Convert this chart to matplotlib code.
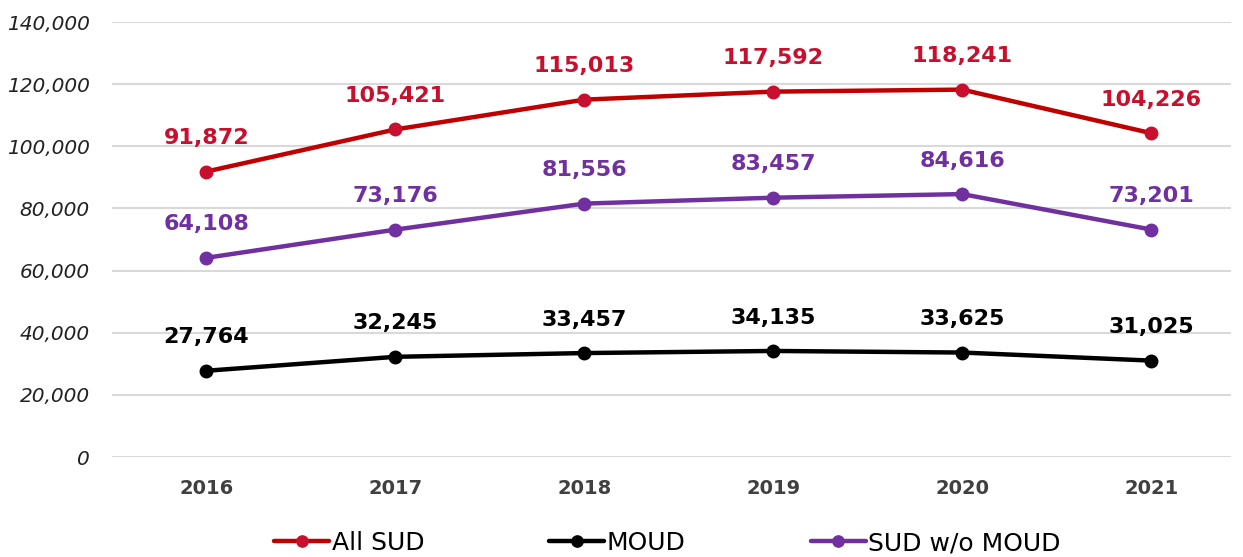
import matplotlib
matplotlib.use("Agg")
import matplotlib.pyplot as plt
from matplotlib.ticker import FuncFormatter

years = ["2016", "2017", "2018", "2019", "2020", "2021"]
all_sud = [91872, 105421, 115013, 117592, 118241, 104226]
moud = [27764, 32245, 33457, 34135, 33625, 31025]
sud_wo_moud = [64108, 73176, 81556, 83457, 84616, 73201]
y_ticks = [0, 20000, 40000, 60000, 80000, 100000, 120000, 140000]

plt.rcParams['font.family'] = ['DejaVu Sans']

fig = plt.figure(figsize=(12.43, 5.57), dpi=100)
ax = fig.add_axes([0.090, 0.1795, 0.900, 0.781])

series = [
    ("All SUD", all_sud, "#C00000", "#C8102E", "#C8102E"),
    ("MOUD", moud, "#000000", "#000000", "#000000"),
    ("SUD w/o MOUD", sud_wo_moud, "#7030A0", "#7030A0", "#7030A0"),
]
x = list(range(len(years)))
for name, vals, lc, mc, tc in series:
    ax.plot(x, vals, color=lc, lw=3.2, marker='o', ms=9, mfc=mc, mec=mc,
            label=name, solid_capstyle='round', zorder=3)
    for xi, v in zip(x, vals):
        ax.annotate(f"{v:,}", (xi, v), xytext=(0, 24), textcoords='offset points',
                    ha='center', va='center', color=tc, fontsize=16,
                    fontweight='bold')

ax.set_ylim(0, 140000)
ax.set_xlim(-0.5, 5.42)
ax.set_yticks(y_ticks)
ax.yaxis.set_major_formatter(FuncFormatter(lambda v, p: f"{int(v):,}"))
ax.set_xticks(x)
ax.set_xticklabels(years)
for lab in ax.get_yticklabels():
    lab.set_fontstyle('italic')
    lab.set_fontsize(14.5)
    lab.set_color('#222222')
for lab in ax.get_xticklabels():
    lab.set_fontweight('bold')
    lab.set_fontsize(14)
    lab.set_color('#404040')
ax.tick_params(axis='y', length=0, pad=16)
ax.tick_params(axis='x', length=0, pad=16)
ax.grid(axis='y', color='#D9D9D9', lw=1.5)
ax.set_axisbelow(True)
for s in ax.spines.values():
    s.set_visible(False)

fig.legend(loc='lower center', bbox_to_anchor=(0.537, -0.037), ncol=3,
           frameon=False, fontsize=18, handlelength=2.2, handletextpad=0.1,
           columnspacing=5.0, markerscale=0.9)

fig.savefig("out.png", dpi=100)
